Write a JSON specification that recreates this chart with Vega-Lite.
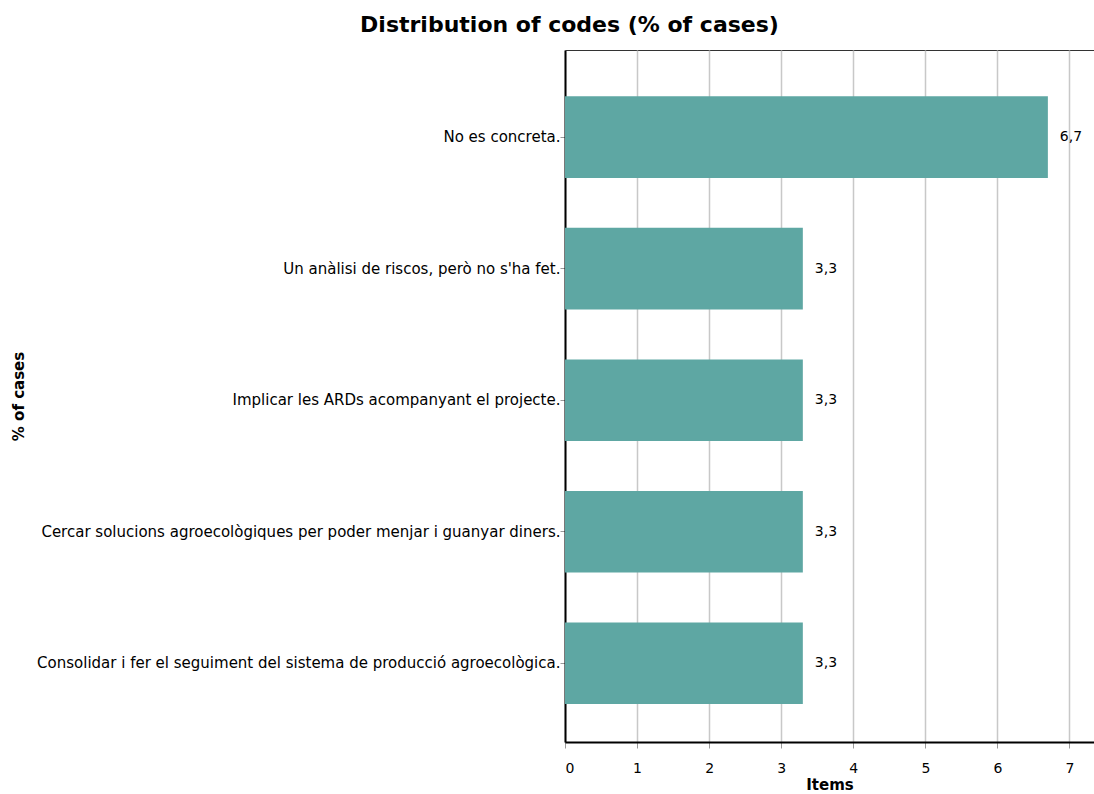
{
  "$schema": "https://vega.github.io/schema/vega-lite/v6.json",
  "width": 529,
  "height": 692,
  "autosize": {"type": "none"},
  "padding": {"left": 565, "top": 50, "right": 0, "bottom": 52},
  "background": "white",
  "title": {
    "text": "Distribution of codes (% of cases)",
    "font": "DejaVu Sans",
    "fontSize": 22,
    "fontWeight": "bold",
    "color": "black",
    "anchor": "middle",
    "frame": "group",
    "dx": -260,
    "offset": 13
  },
  "config": {
    "locale": {"number": {"decimal": ",", "thousands": ".", "grouping": [3], "currency": ["", " €"]}},
    "view": {"stroke": "#333333", "strokeWidth": 1},
    "font": "DejaVu Sans"
  },
  "data": {
    "values": [
      {"code": "No es concreta.", "pct": 6.7},
      {"code": "Un anàlisi de riscos, però no s'ha fet.", "pct": 3.3},
      {"code": "Implicar les ARDs acompanyant el projecte.", "pct": 3.3},
      {"code": "Cercar solucions agroecològiques per poder menjar i guanyar diners.", "pct": 3.3},
      {"code": "Consolidar i fer el seguiment del sistema de producció agroecològica.", "pct": 3.3}
    ]
  },
  "encoding": {
    "y": {
      "field": "code",
      "type": "nominal",
      "sort": null,
      "scale": {"paddingInner": 0.38, "paddingOuter": 0.32, "align": 0.55},
      "axis": {
        "title": "% of cases",
        "titleFont": "DejaVu Sans",
        "titleFontSize": 15,
        "titleFontWeight": "bold",
        "titleColor": "black",
        "titleAngle": -90,
        "titleX": -547,
        "titleY": 346,
        "titleAlign": "center",
        "titleBaseline": "middle",
        "labelFont": "DejaVu Sans",
        "labelFontSize": 15,
        "labelColor": "black",
        "labelLimit": 0,
        "labelPadding": 0,
        "tickColor": "#999999",
        "tickSize": 5,
        "domainColor": "black",
        "domainWidth": 2,
        "grid": false
      }
    },
    "x": {
      "field": "pct",
      "type": "quantitative",
      "scale": {"domain": [0, 7.34], "nice": false},
      "axis": {
        "title": "Items",
        "titleFont": "DejaVu Sans",
        "titleFontSize": 15,
        "titleFontWeight": "bold",
        "titleColor": "black",
        "titlePadding": 2,
        "values": [0, 1, 2, 3, 4, 5, 6, 7],
        "format": "d",
        "labelFont": "DejaVu Sans",
        "labelFontSize": 14,
        "labelColor": "black",
        "labelPadding": 13,
        "tickColor": "#999999",
        "tickSize": 6,
        "domainColor": "black",
        "domainWidth": 2,
        "grid": true,
        "gridColor": "#c8c8c8",
        "gridWidth": 1.5
      }
    }
  },
  "layer": [
    {"mark": {"type": "bar", "color": "#5ea7a3"}},
    {
      "mark": {"type": "text", "align": "left", "baseline": "middle", "dx": 12, "fontSize": 14, "font": "DejaVu Sans", "color": "black"},
      "encoding": {"text": {"field": "pct", "type": "quantitative", "format": ".1f"}}
    }
  ]
}
